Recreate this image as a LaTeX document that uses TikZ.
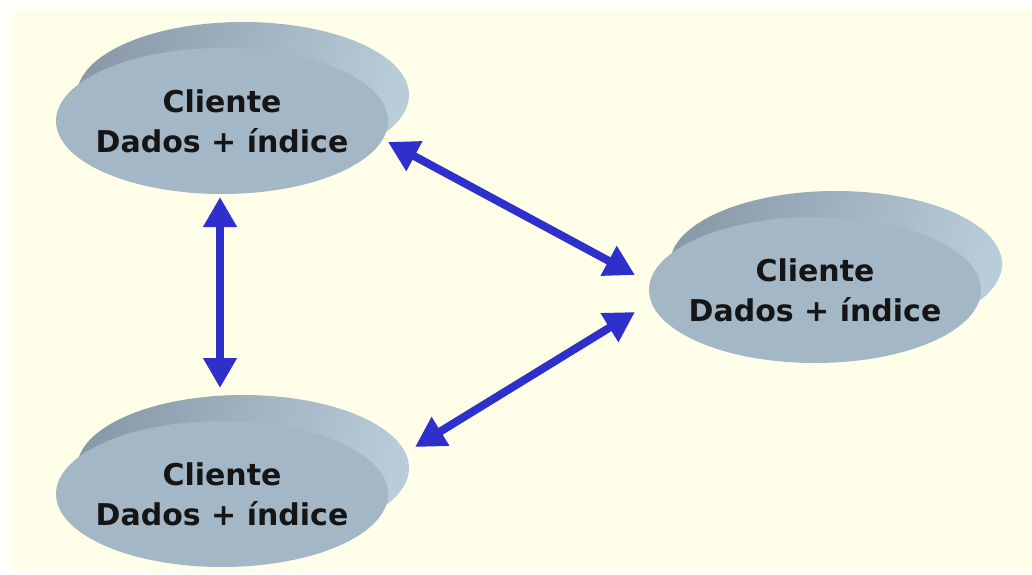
\documentclass[tikz,border=0pt]{standalone}
\usepackage{fontspec}
\setmainfont{DejaVu Sans}
\usetikzlibrary{shapes.geometric,arrows.meta,calc}
\definecolor{cream}{HTML}{FFFFE9}
\definecolor{facecol}{HTML}{A3B7C7}
\definecolor{rimdark}{HTML}{8A9AA9}
\definecolor{rimlight}{HTML}{B9CCD9}
\definecolor{arrowblue}{HTML}{2F2FCB}
\definecolor{txt}{HTML}{151515}
\tikzset{
  face/.style={ellipse, minimum width=332pt, minimum height=146pt, inner sep=0pt,
    fill=facecol},
  lbl/.style={align=center, text=txt, inner sep=0pt, font=\bfseries\fontsize{30}{40}\selectfont},
  rim/.style={left color=rimdark, right color=rimlight, shading angle=75},
  link/.style={arrowblue, line width=8pt, {Triangle[length=30pt,width=32pt]}-{Triangle[length=30pt,width=32pt]}}
}
\newcommand\mydisc[3]{%
  \shade[rim] (#2+21,#3-26) ellipse [x radius=166pt, y radius=73pt];
  \node[face] (#1) at (#2,#3) {};
  \node[lbl] (#1t) at (#1) {Cliente\\Dados + índice};
}
\begin{document}
\begin{tikzpicture}[x=1pt,y=-1pt]
\useasboundingbox (0,0) rectangle (1032,574);
\fill[white] (0,0) rectangle (1032,574);
\fill[cream] (10,10) rectangle (1032,572);
\mydisc{c1}{222}{121}
\mydisc{c2}{815}{290}
\mydisc{c3}{222}{494}
\draw[link] ($(c1)+(-2,76)$) -- ($(c3)+(-2,-106)$);
\draw[link] ($(c1)+(166,21)$) -- ($(c2)+(-180,-15)$);
\draw[link] ($(c2)+(-180,22)$) -- ($(c3)+(193,-47)$);
\end{tikzpicture}
\end{document}
